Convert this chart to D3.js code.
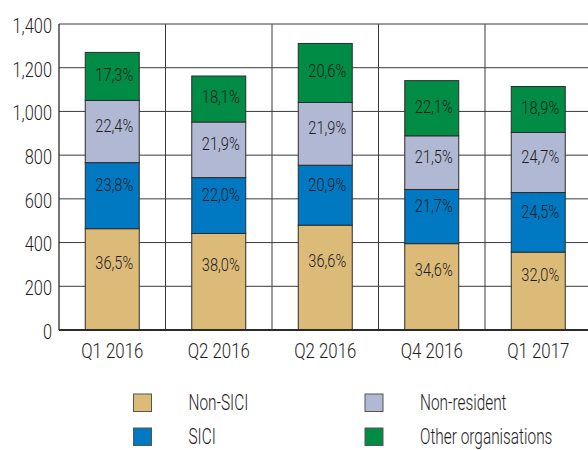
<!DOCTYPE html>
<html>
<head>
<meta charset="utf-8">
<script src="https://cdn.jsdelivr.net/npm/d3@7"></script>
<style>
  html, body { margin: 0; padding: 0; background: #fff; }
  svg { display: block; }
  text { font-family: Roboto, 'DejaVu Sans Condensed', sans-serif; font-weight: 300; fill: #1e1b1c; }
</style>
</head>
<body>
<svg id="chart" width="588" height="450"></svg>
<script>
// Quarterly totals and the share (%) held by each holder group
const categories = ["Q1 2016", "Q2 2016", "Q2 2016", "Q4 2016", "Q1 2017"];
const totals = [1270, 1162, 1311, 1142, 1113];
const nonSICI = [36.5, 38.0, 36.6, 34.6, 32.0];
const sici = [23.8, 22.0, 20.9, 21.7, 24.5];
const nonResident = [22.4, 21.9, 21.9, 21.5, 24.7];
const otherOrgs = [17.3, 18.1, 20.6, 22.1, 18.9];
const seriesNames = ["Non-SICI", "SICI", "Non-resident", "Other organisations"];
const seriesColors = ["#dcbb79", "#0079c2", "#b0b8d3", "#008c45"];
const yTicks = [0, 200, 400, 600, 800, 1000, 1200, 1400];

const shares = [nonSICI, sici, nonResident, otherOrgs];

const svg = d3.select("#chart");
const plot = { left: 59, right: 591.5, top: 24, bottom: 330 };

const x = d3.scaleBand()
  .domain(d3.range(categories.length))
  .range([plot.left, plot.right])
  .padding(0);
const y = d3.scaleLinear().domain([0, 1400]).range([plot.bottom, plot.top]);
const barW = x.bandwidth() * 0.507;

// squeeze text horizontally to mimic a condensed face
function condense(sel, sx) {
  sel.each(function () {
    const t = d3.select(this);
    const x0 = +t.attr("x") || 0;
    t.attr("x", x0 / sx).attr("transform", `scale(${sx},1)`);
  });
}

// grid
const grid = svg.append("g").attr("stroke", "#3a3a3a").attr("stroke-width", 1);
grid.selectAll("line.h")
  .data(yTicks.filter(d => d > 0))
  .join("line")
  .attr("class", "h")
  .attr("x1", plot.left).attr("x2", plot.right)
  .attr("y1", d => y(d)).attr("y2", d => y(d));
grid.selectAll("line.v")
  .data(d3.range(1, categories.length))
  .join("line")
  .attr("class", "v")
  .attr("x1", d => x(d)).attr("x2", d => x(d))
  .attr("y1", plot.top).attr("y2", plot.bottom);

// stacked bars
const rows = categories.map((c, i) => {
  const r = { i };
  seriesNames.forEach((s, k) => { r[s] = totals[i] * shares[k][i] / 100; });
  return r;
});
const stacked = d3.stack().keys(seriesNames)(rows);

const layers = svg.append("g").selectAll("g")
  .data(stacked)
  .join("g")
  .attr("fill", (d, k) => seriesColors[k]);

layers.selectAll("rect")
  .data(d => d)
  .join("rect")
  .attr("x", d => x(d.data.i) + (x.bandwidth() - barW) / 2)
  .attr("width", barW)
  .attr("y", d => y(d[1]))
  .attr("height", d => y(d[0]) - y(d[1]))
  .attr("stroke", "#2b2b2b")
  .attr("stroke-width", 1);

// percentage labels, nudged up within taller segments
const pctLocale = d3.formatLocale({ decimal: ",", thousands: ".", grouping: [3], currency: ["", ""] });
const pct = pctLocale.format(".1f");
const labelNudge = [-17, -11, -6, -2];

layers.each(function (layer, k) {
  d3.select(this).selectAll("text")
    .data(layer)
    .join("text")
    .attr("text-anchor", "middle")
    .attr("dy", "0.36em")
    .attr("font-size", 18)
    .attr("transform", d => {
      const cx = x(d.data.i) + x.bandwidth() / 2 + 2;
      const cy = (y(d[0]) + y(d[1])) / 2 + labelNudge[k];
      return `translate(${cx},${cy}) scale(0.81,1)`;
    })
    .text((d, i) => pct(shares[k][i]) + "%");
});

// axes
const yAxis = svg.append("g")
  .attr("transform", `translate(${plot.left},0)`)
  .call(d3.axisLeft(y).tickValues(yTicks).tickFormat(d3.format(",")).tickSize(0).tickPadding(7));
yAxis.select(".domain").remove();
yAxis.selectAll("text")
  .attr("font-size", 21)
  .attr("font-family", null)
  .attr("dy", "0.4em");
condense(yAxis.selectAll("text"), 0.78);

const xAxis = svg.append("g")
  .attr("transform", `translate(0,${plot.bottom})`)
  .call(d3.axisBottom(x).tickFormat(i => categories[i]).tickSize(0).tickPadding(13));
xAxis.select(".domain").remove();
xAxis.selectAll("text")
  .attr("font-size", 21)
  .attr("font-family", null);
condense(xAxis.selectAll("text"), 0.8);

svg.append("line")
  .attr("x1", plot.left).attr("x2", plot.left)
  .attr("y1", plot.top).attr("y2", plot.bottom)
  .attr("stroke", "#2b2b2b").attr("stroke-width", 1.3);
svg.append("line")
  .attr("x1", plot.left).attr("x2", plot.right)
  .attr("y1", plot.bottom).attr("y2", plot.bottom)
  .attr("stroke", "#2b2b2b").attr("stroke-width", 2);

// legend: two columns, two rows
const legendCols = [133.5, 365];
const legendRows = [394, 428];
const legendOrder = [0, 2, 1, 3]; // row-major: Non-SICI, Non-resident / SICI, Other
const legend = svg.append("g").selectAll("g")
  .data(legendOrder)
  .join("g")
  .attr("transform", (k, j) => `translate(${legendCols[j % 2]},${legendRows[Math.floor(j / 2)]})`);
legend.append("rect")
  .attr("width", 18).attr("height", 17.5)
  .attr("fill", k => seriesColors[k])
  .attr("stroke", "#555").attr("stroke-width", 1);
legend.append("text")
  .attr("x", 55)
  .attr("y", 15.5)
  .attr("font-size", 22)
  .text(k => seriesNames[k])
  .call(condense, 0.7);
</script>
</body>
</html>
